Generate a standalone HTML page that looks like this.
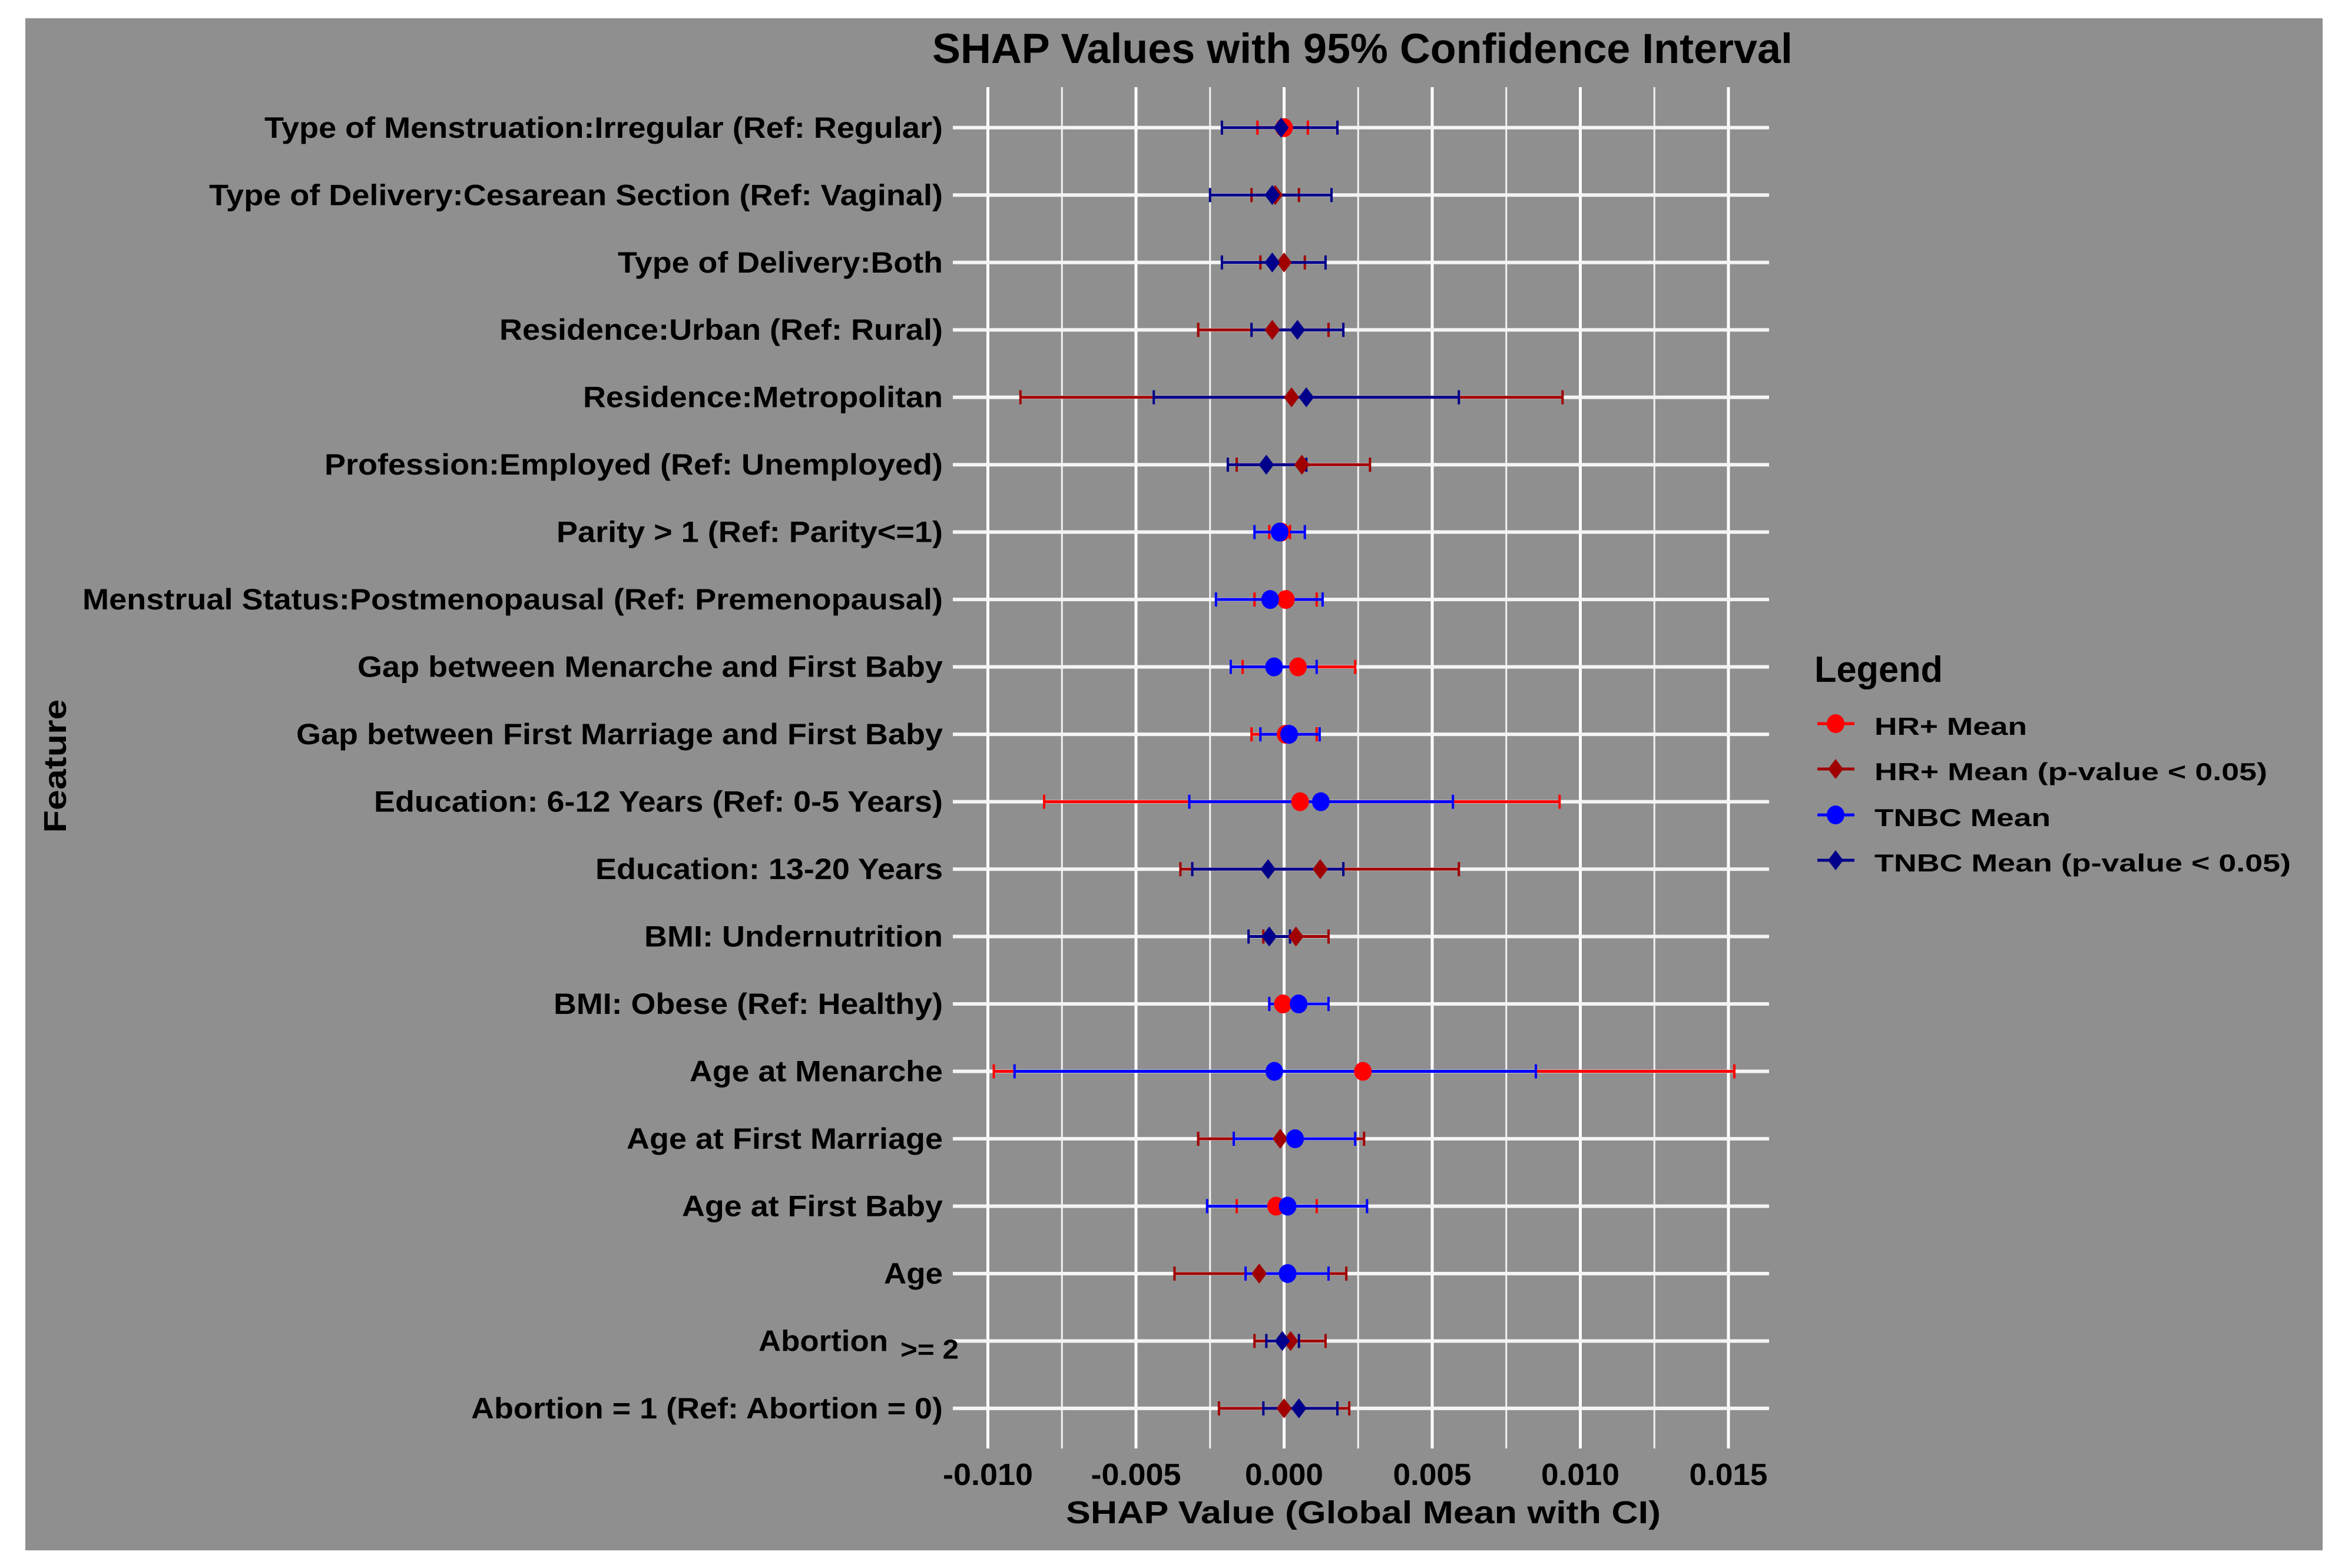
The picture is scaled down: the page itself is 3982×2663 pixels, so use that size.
<!DOCTYPE html>
<html><head><meta charset="utf-8">
<style>
html,body{margin:0;padding:0;background:#fff;}
svg{display:block;}
text{font-family:"Liberation Sans",Arial,sans-serif;font-weight:bold;fill:#000;}
</style></head>
<body>
<svg id="chart" width="3982" height="2663" viewBox="0 0 3982 2663" xmlns="http://www.w3.org/2000/svg">
  <rect x="43" y="31" width="3901" height="2602" fill="#8f8f8f"/>
  <g id="grid"></g>
  <g id="bars"></g>
  <g id="points"></g>
  <g id="ylabels"></g>
  <g id="xlabels"></g>
  <text x="1583" y="107" font-size="71" textLength="1461" lengthAdjust="spacingAndGlyphs">SHAP Values with 95% Confidence Interval</text>
  <text x="1810" y="2587" font-size="54" textLength="1010" lengthAdjust="spacingAndGlyphs">SHAP Value (Global Mean with CI)</text>
  <text transform="translate(112,1301) rotate(-90)" text-anchor="middle" font-size="54" textLength="227" lengthAdjust="spacingAndGlyphs">Feature</text>
  <g id="legend">
    <text x="3081" y="1158" font-size="62" textLength="218" lengthAdjust="spacingAndGlyphs">Legend</text>
  </g>
</svg>
<script>
const features = ["Type of Menstruation:Irregular (Ref: Regular)","Type of Delivery:Cesarean Section (Ref: Vaginal)","Type of Delivery:Both","Residence:Urban (Ref: Rural)","Residence:Metropolitan","Profession:Employed (Ref: Unemployed)","Parity > 1 (Ref: Parity<=1)","Menstrual Status:Postmenopausal (Ref: Premenopausal)","Gap between Menarche and First Baby","Gap between First Marriage and First Baby","Education: 6-12 Years (Ref: 0-5 Years)","Education: 13-20 Years","BMI: Undernutrition","BMI: Obese (Ref: Healthy)","Age at Menarche","Age at First Marriage","Age at First Baby","Age","Abortion","Abortion = 1 (Ref: Abortion = 0)"];
const hrMean = [0.0,-0.0003,0.0,-0.0004,0.00025,0.0006,-0.0001,0.00006,0.00047,0.00005,0.00054,0.00122,0.0004,-0.00004,0.00266,-0.00013,-0.00027,-0.00084,0.00022,0.0];
const hrLo = [-0.0009,-0.0011,-0.0008,-0.0029,-0.0089,-0.0016,-0.0005,-0.001,-0.0014,-0.0011,-0.0081,-0.0035,-0.0007,-0.0005,-0.0098,-0.0029,-0.0016,-0.0037,-0.001,-0.0022];
const hrHi = [0.0008,0.0005,0.0007,0.0015,0.0094,0.0029,0.0002,0.0011,0.0024,0.0011,0.0093,0.0059,0.0015,0.0004,0.0152,0.0027,0.0011,0.0021,0.0014,0.0022];
const hrSig = [0,1,1,1,1,1,0,0,0,0,0,1,1,0,0,1,0,1,1,1];
const tnMean = [-0.0001,-0.0004,-0.0004,0.00045,0.00075,-0.0006,-0.00015,-0.00047,-0.00034,0.00017,0.00124,-0.00054,-0.0005,0.00049,-0.00033,0.00037,0.00012,0.00012,-0.00006,0.0005];
const tnLo = [-0.0021,-0.0025,-0.0021,-0.0011,-0.0044,-0.0019,-0.001,-0.0023,-0.0018,-0.0008,-0.0032,-0.0031,-0.0012,-0.0005,-0.0091,-0.0017,-0.0026,-0.0013,-0.0006,-0.0007];
const tnHi = [0.0018,0.0016,0.0014,0.002,0.0059,0.00075,0.0007,0.0013,0.0011,0.0012,0.0057,0.002,0.0002,0.0015,0.0085,0.0024,0.0028,0.0015,0.0005,0.0018];
const tnSig = [1,1,1,1,1,1,0,0,0,0,0,1,1,0,0,0,0,0,1,1];
const xTicks = [-0.010,-0.005,0.000,0.005,0.010,0.015];
const xTickLabels = ["-0.010","-0.005","0.000","0.005","0.010","0.015"];
const xMinor = [-0.0075,-0.0025,0.0025,0.0075,0.0125];
const legendLabels = ["HR+ Mean","HR+ Mean (p-value < 0.05)","TNBC Mean","TNBC Mean (p-value < 0.05)"];
const labelLeft = [449,355,1049,848,990,551,945,140,607,503,635,1011,1094,940,1171,1064,1158,1501,1288,800];

const NS = "http://www.w3.org/2000/svg";
const X0 = 2180.5, XS = 251.5/0.005;
function xs(v){ return X0 + v*XS; }
function ys(i){ return 216.8 + i*114.48; }
const PL = 1618, PR = 3004, PT = 148, PB = 2460;
const C = {hr:"#ff0000", hrS:"#a00000", tn:"#0000ff", tnS:"#00008b"};
function mk(tag, attrs, parent){ const e=document.createElementNS(NS,tag); for(const k in attrs) e.setAttribute(k,attrs[k]); parent.appendChild(e); return e; }

const grid = document.getElementById('grid');
xMinor.forEach(v=>{
  const l = mk('line',{x1:xs(v),x2:xs(v),y1:PT,y2:PB,stroke:'#f2f2f2','stroke-width':3},grid);
  
  
});
xTicks.forEach(v=>{
  const l = mk('line',{x1:xs(v),x2:xs(v),y1:PT,y2:PB,stroke:'#ffffff','stroke-width':5},grid);
  
  
});
features.forEach((f,i)=>{
  const l = mk('line',{x1:PL,x2:PR,y1:ys(i),y2:ys(i),stroke:'#f4f4f4','stroke-width':6},grid);
  
  
});

const bars = document.getElementById('bars');
function errbar(lo,hi,i,color,name){
  const g = mk('g',{},bars);
  
  
  const y=ys(i);
  mk('line',{x1:xs(lo),x2:xs(hi),y1:y,y2:y,stroke:color,'stroke-width':5},g);
  mk('line',{x1:xs(lo),x2:xs(lo),y1:y-12,y2:y+12,stroke:color,'stroke-width':4},g);
  mk('line',{x1:xs(hi),x2:xs(hi),y1:y-12,y2:y+12,stroke:color,'stroke-width':4},g);
}
features.forEach((f,i)=>{ errbar(hrLo[i],hrHi[i],i,hrSig[i]?C.hrS:C.hr,'hr-errorbar'); });
features.forEach((f,i)=>{ errbar(tnLo[i],tnHi[i],i,tnSig[i]?C.tnS:C.tn,'tnbc-errorbar'); });

const pts = document.getElementById('points');
function marker(cx,cy,sig,color,parent){
  if(sig){ return mk('polygon',{points:`${cx-13},${cy} ${cx},${cy-17} ${cx+13},${cy} ${cx},${cy+17}`,fill:color},parent); }
  return mk('ellipse',{cx:cx,cy:cy,rx:15,ry:16,fill:color},parent);
}
features.forEach((f,i)=>{
  const m = marker(xs(hrMean[i]),ys(i),hrSig[i],hrSig[i]?C.hrS:C.hr,pts);
  
  
});
features.forEach((f,i)=>{
  const m = marker(xs(tnMean[i]),ys(i),tnSig[i],tnSig[i]?C.tnS:C.tn,pts);
  
  
});

const yl = document.getElementById('ylabels');
features.forEach((f,i)=>{
  const right = (i===18) ? 1508 : 1601;
  const t = mk('text',{x:labelLeft[i],y:ys(i)+17,'font-size':50,textLength:right-labelLeft[i],lengthAdjust:'spacingAndGlyphs'},yl);
  t.textContent = f;
  
  
});
const extra = mk('text',{x:1529,y:ys(18)+30,'font-size':46,textLength:99,lengthAdjust:'spacingAndGlyphs'},yl);
extra.textContent = ">= 2";



const xl = document.getElementById('xlabels');
xTicks.forEach((v,i)=>{
  const w = xTickLabels[i].startsWith('-') ? 153 : 133;
  const t = mk('text',{x:xs(v)-w/2,y:2522,'font-size':52,textLength:w,lengthAdjust:'spacingAndGlyphs'},xl);
  t.textContent = xTickLabels[i];
  
  
});

const lg = document.getElementById('legend');
const lgY = [1229,1306,1384,1461];
const lgColors = [C.hr,C.hrS,C.tn,C.tnS];
const lgSig = [0,1,0,1];
const lgW = [259,667,299,707];
legendLabels.forEach((lab,i)=>{
  const g = mk('g',{},lg);
  
  
  mk('line',{x1:3086,x2:3149,y1:lgY[i],y2:lgY[i],stroke:lgColors[i],'stroke-width':5},g);
  marker(3117,lgY[i],lgSig[i],lgColors[i],g);
  const t = mk('text',{x:3183,y:lgY[i]+19,'font-size':42,textLength:lgW[i],lengthAdjust:'spacingAndGlyphs'},g);
  t.textContent = lab;
});
</script>
</body></html>
